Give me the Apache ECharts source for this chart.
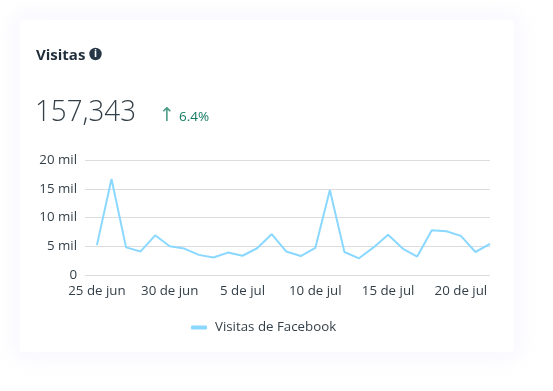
<!DOCTYPE html>
<html>
<head>
<meta charset="utf-8">
<style>
html,body{margin:0;padding:0;background:#fff;width:553px;height:391px;overflow:hidden}
#card{position:absolute;left:20px;top:20px;width:494px;height:332px;background:#fff;border-radius:3px;box-shadow:0 0 22px 6px rgba(225,228,255,.28)}
#c{position:absolute;left:0;top:0;width:553px;height:391px}
</style>
<script src="https://cdn.jsdelivr.net/npm/echarts@6/dist/echarts.min.js"></script>
</head>
<body>
<div id="card"></div>
<div id="c"></div>
<script>
const dateLabels = ['25 de jun','26 de jun','27 de jun','28 de jun','29 de jun','30 de jun','1 de jul','2 de jul','3 de jul','4 de jul','5 de jul','6 de jul','7 de jul','8 de jul','9 de jul','10 de jul','11 de jul','12 de jul','13 de jul','14 de jul','15 de jul','16 de jul','17 de jul','18 de jul','19 de jul','20 de jul','21 de jul','22 de jul'];
const visitas = [5200,16700,4800,4100,6900,5000,4600,3500,3050,3900,3350,4650,7100,4100,3300,4700,14800,4000,2900,4800,7000,4600,3200,7800,7600,6800,4000,5400];
const tickIndexes = [0,5,10,15,20,25];
const seriesName = 'Visitas de Facebook';
const titleText = 'Visitas';
const totalText = '157,343';
const changeText = '6.4%';
const FONT = '"Open Sans","Noto Sans",sans-serif';
const chart = echarts.init(document.getElementById('c'), null, {renderer:'canvas'});
chart.setOption({
  animation:false,
  backgroundColor:'transparent',
  grid:{left:85,right:63,top:160,bottom:116,containLabel:false},
  xAxis:{
    type:'value',min:-0.82,max:27,
    splitLine:{show:false},axisLine:{show:false},axisTick:{show:false},
    axisLabel:{customValues:tickIndexes,formatter:v=>dateLabels[v],color:'#333f48',fontFamily:FONT,fontSize:13.3,margin:10,hideOverlap:false}
  },
  yAxis:{
    type:'value',min:0,max:20000,interval:5000,
    axisLine:{show:false},axisTick:{show:false},
    splitLine:{lineStyle:{color:'#dcdcdf',width:1}},
    axisLabel:{formatter:v=>v===0?'0':(v/1000)+' mil',color:'#333f48',fontFamily:FONT,fontSize:13.3,margin:8,padding:[3,0,0,0]}
  },
  legend:{
    show:true,left:186,top:316,itemWidth:16,itemHeight:4,itemGap:8,
    icon:'roundRect',
    textStyle:{color:'#333f48',fontFamily:FONT,fontSize:13.3,padding:[0,0,0,3]},
    data:[seriesName]
  },
  series:[{
    name:seriesName,type:'line',
    data:visitas.map((v,i)=>[i,v]),
    showSymbol:false,symbol:'none',smooth:false,clip:false,
    lineStyle:{color:'#8ad8ff',width:2},itemStyle:{color:'#8ad8ff'}
  }],
  graphic:[
    {type:'text',x:36,y:48,style:{text:titleText,fill:'#1f2d3a',font:'700 15px '+FONT}},
    {type:'circle',shape:{cx:95.5,cy:54,r:6.2},style:{fill:'#263645'}},
    {type:'text',x:95.5,y:54,style:{text:'i',fill:'#fff',font:'700 10px '+FONT,align:'center',verticalAlign:'middle'}},
    {type:'text',x:35,y:97,scaleX:0.925,style:{text:totalText,fill:'#333f48',font:'300 30px '+FONT}},
    {type:'text',x:159,y:107,style:{text:'↑',fill:'#0f7b5f',font:'400 19px "DejaVu Sans",sans-serif',opacity:.75}},
    {type:'text',x:179,y:110,style:{text:changeText,fill:'#127a5e',font:'400 13.5px '+FONT}}
  ]
});
</script>
</body>
</html>
